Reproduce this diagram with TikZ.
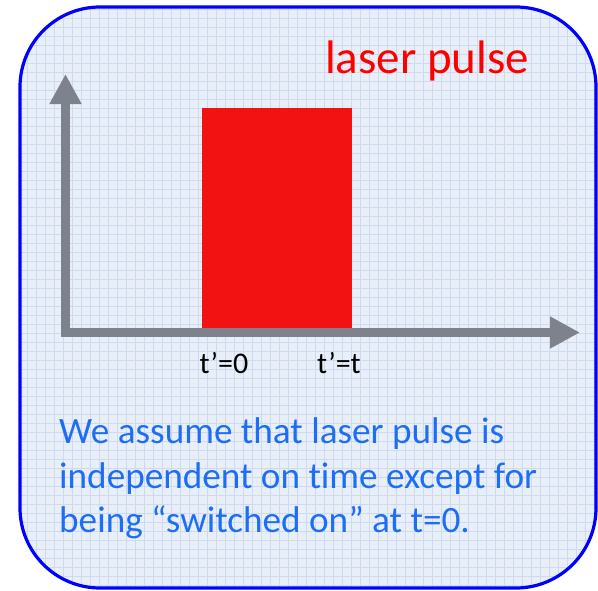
\documentclass[tikz,border=0pt]{standalone}
\usepackage{fontspec}
\setmainfont{Carlito}[Ligatures=NoCommon]
\usetikzlibrary{arrows.meta}
\definecolor{boxfill}{RGB}{233,239,249}
\definecolor{gridc}{RGB}{205,218,240}
\definecolor{axisgray}{RGB}{125,130,140}
\definecolor{pulsered}{RGB}{242,18,18}
\definecolor{textblue}{RGB}{30,110,245}
\definecolor{borderblue}{RGB}{0,0,255}
\tikzset{
  panel/.style={rounded corners=80pt},
  axis/.style={draw=axisgray, line width=9pt, line join=miter,
    {Triangle[width=30pt,length=30pt]}-{Triangle[width=30pt,length=30pt]}},
  ticklabel/.style={font=\fontsize{30}{36}\selectfont, text=black, anchor=base, inner sep=0pt},
  titlelabel/.style={font=\fontsize{47}{56}\selectfont, text=red, anchor=base west, inner sep=0pt},
  bodytext/.style={font=\fontsize{37.2}{44}\selectfont, text=textblue, anchor=base west, inner sep=0pt},
}
\begin{document}
\begin{tikzpicture}[x=1pt,y=-1pt]
\useasboundingbox (0,0) rectangle (598,590);
\fill[white] (0,0) rectangle (598,590);
% panel
\fill[boxfill, panel] (20,7) rectangle (596,588);
\begin{scope}
  \clip[panel] (20,7) rectangle (596,588);
  \draw[gridc, line width=0.5pt, step=9pt] (20,7) grid (600,590);
\end{scope}
\draw[borderblue, line width=3.2pt, panel] (20,7) rectangle (596,588);
% pulse
\fill[pulsered] (202,108) rectangle (352,329);
% axes
\coordinate (ytip) at (65.5,74);
\coordinate (origin) at (65.5,332.5);
\coordinate (xtip) at (580,332.5);
\draw[axis] (ytip) -- (origin) -- (xtip);
% labels
\node[titlelabel] (title) at (325,73) {laser pulse};
\node[ticklabel] (t0) at (224,373) {t’=0};
\node[ticklabel] (tt) at (339,373) {t’=t};
\node[bodytext] (l1) at (59,443) {We assume that laser pulse is};
\node[bodytext] (l2) at (59,488) {independent on time except for};
\node[bodytext] (l3) at (59,532) {being “switched on” at t=0.};
\end{tikzpicture}
\end{document}
